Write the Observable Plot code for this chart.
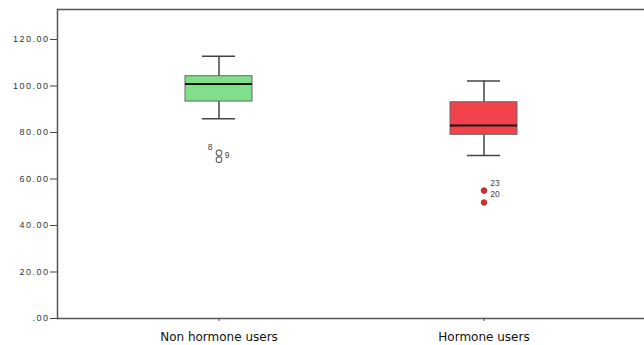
<!DOCTYPE html>
<html><head><meta charset="utf-8">
<script src="https://cdn.jsdelivr.net/npm/d3@7"></script>
<script src="https://cdn.jsdelivr.net/npm/@observablehq/plot@0.6"></script>
<style>body{margin:0;background:#fff;overflow:hidden} svg g[aria-label="y-axis tick label"] text{letter-spacing:1.5px}</style>
</head><body><div id="chart"></div>
<script>
const categories = ["Non hormone users", "Hormone users"];
const whiskerLow = [85.9, 70.1];
const q1 = [93.3, 79.0];
const median = [100.9, 83.0];
const q3 = [104.2, 93.0];
const whiskerHigh = [112.8, 102.1];
const outlierGroup = ["Non hormone users", "Non hormone users", "Hormone users", "Hormone users"];
const outlierValue = [71.2, 68.3, 55.0, 49.9];
const labelText = ["8", "9", "23", "20"];
const labelOutlier = [0, 0, 2, 2];
const yTicks = [0, 20, 40, 60, 80, 100, 120];
const yMax = 132.9;
const fills = ["#80e08a", "#f2424b"];

const boxes = categories.map((c, i) => ({c, lo: whiskerLow[i], q1: q1[i], med: median[i], q3: q3[i], hi: whiskerHigh[i], fill: fills[i]}));
const outliers = outlierGroup.map((g, i) => ({g, v: outlierValue[i]}));
const labels = labelText.map((t, i) => ({t, g: outlierGroup[labelOutlier[i]], v: outlierValue[labelOutlier[i]]}));
const hollow = outliers.filter(d => d.g === categories[0]);
const solid = outliers.filter(d => d.g === categories[1]);

const lineColor = "#555";
const chart = Plot.plot({
  width: 644, height: 345,
  marginLeft: 57, marginRight: 0, marginTop: 9, marginBottom: 27,
  style: {background: "#fff", overflow: "hidden"},
  x: {type: "band", domain: categories, paddingInner: 0.748, paddingOuter: 0.48, label: null},
  y: {domain: [0, yMax], label: null},
  marks: [
    Plot.ruleY([0, yMax], {stroke: lineColor, strokeWidth: 1.5}),
    Plot.frame({anchor: "left", stroke: lineColor, strokeWidth: 1.5}),
    Plot.axisY({ticks: yTicks, tickSize: 7, tickPadding: 1, tickFormat: d => d === 0 ? ".00" : d.toFixed(2),
      fontSize: 9, fontFamily: "Liberation Sans, Arial, sans-serif", fill: "#333", stroke: "#444", label: null}),
    Plot.axisX({tickSize: 3, tickPadding: 11, fontSize: 12, fontFamily: "DejaVu Sans, sans-serif", fill: "#111", stroke: "#444", label: null}),
    Plot.ruleX(boxes, {x: "c", y1: "lo", y2: "q1", stroke: "#444", strokeWidth: 1.5}),
    Plot.ruleX(boxes, {x: "c", y1: "q3", y2: "hi", stroke: "#444", strokeWidth: 1.5}),
    Plot.tickY(boxes, {x: "c", y: "lo", stroke: "#444", strokeWidth: 1.5, insetLeft: 17, insetRight: 17}),
    Plot.tickY(boxes, {x: "c", y: "hi", stroke: "#444", strokeWidth: 1.5, insetLeft: 17, insetRight: 17}),
    Plot.barY(boxes, {x: "c", y1: "q1", y2: "q3", fill: "fill", stroke: "#666", strokeWidth: 1}),
    Plot.tickY(boxes, {x: "c", y: "med", stroke: "#111", strokeWidth: 2}),
    Plot.dot(hollow, {x: "g", y: "v", r: 2.8, stroke: "#666", strokeWidth: 1.1, fill: "none"}),
    Plot.dot(solid, {x: "g", y: "v", r: 2.8, stroke: "#a02020", strokeWidth: 0.8, fill: "#e02a30"}),
    Plot.text(labels.filter((d, i) => i === 0), {x: "g", y: "v", text: "t", dx: -9, dy: -6, fontSize: 8.5, fill: "#444", fontFamily: "Liberation Sans, sans-serif"}),
    Plot.text(labels.filter((d, i) => i === 1), {x: "g", y: "v", text: "t", dx: 8, dy: 2, fontSize: 8.5, fill: "#444", fontFamily: "Liberation Sans, sans-serif"}),
    Plot.text(labels.filter((d, i) => i === 2), {x: "g", y: "v", text: "t", dx: 11, dy: -7, fontSize: 8.5, fill: "#444", fontFamily: "Liberation Sans, sans-serif"}),
    Plot.text(labels.filter((d, i) => i === 3), {x: "g", y: "v", text: "t", dx: 11, dy: 4, fontSize: 8.5, fill: "#444", fontFamily: "Liberation Sans, sans-serif"})
  ]
});
document.getElementById("chart").appendChild(chart);
</script></body></html>
